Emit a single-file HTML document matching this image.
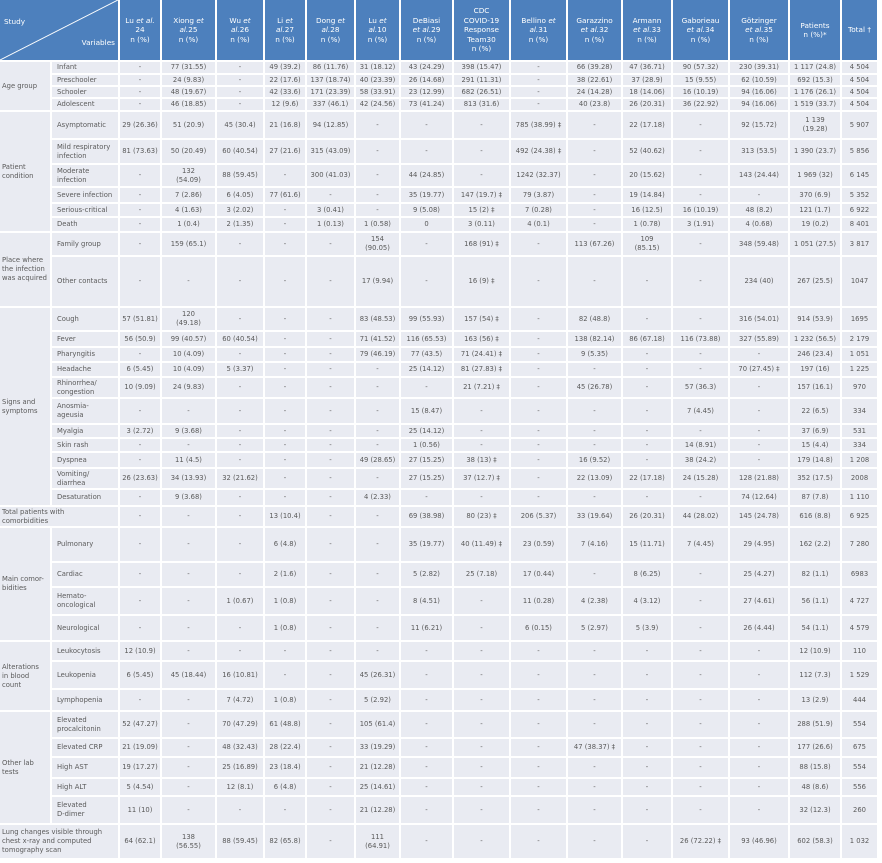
<!DOCTYPE html>
<html><head><meta charset="utf-8"><style>
html,body{margin:0;padding:0;background:#fff;width:882px;height:863px;overflow:hidden}
table{position:absolute;left:-2px;top:-2px;border-collapse:separate;border-spacing:2px;table-layout:fixed;width:881px;font-family:"DejaVu Sans","Liberation Sans",sans-serif}
td{padding:0;background:#e9ebf2;color:#5a5a5a;font-size:6.8px;line-height:9px;text-align:center;vertical-align:middle;overflow:hidden;white-space:nowrap}
td.c{text-align:left;padding-left:2px}
td.v{text-align:left;padding-left:5px}
thead td{background:#4d80bd;color:#fff;font-size:7.3px;line-height:9.5px}
thead td i{font-style:italic}
</style></head><body>
<table>
<colgroup><col style="width:50px"><col style="width:66px"><col style="width:40px"><col style="width:53px"><col style="width:46px"><col style="width:40px"><col style="width:47px"><col style="width:43px"><col style="width:51px"><col style="width:55px"><col style="width:55px"><col style="width:53px"><col style="width:48px"><col style="width:55px"><col style="width:58px"><col style="width:50px"><col style="width:35px"></colgroup>
<thead><tr style="height:60px">
<td colspan="2" style="position:relative;padding:0"><svg width="118" height="60" style="position:absolute;left:0;top:0"><line x1="0" y1="60" x2="118" y2="0" stroke="#fff" stroke-width="1"/></svg><span style="position:absolute;left:4px;top:17px">Study</span><span style="position:absolute;right:3px;top:38px">Variables</span></td>
<td>Lu <i>et al.</i><br>24<br>n (%)</td>
<td>Xiong <i>et</i><br><i>al.</i>25<br>n (%)</td>
<td>Wu <i>et</i><br><i>al.</i>26<br>n (%)</td>
<td>Li <i>et</i><br><i>al.</i>27<br>n (%)</td>
<td>Dong <i>et</i><br><i>al.</i>28<br>n (%)</td>
<td>Lu <i>et</i><br><i>al.</i>10<br>n (%)</td>
<td>DeBiasi<br><i>et al.</i>29<br>n (%)</td>
<td>CDC<br>COVID-19<br>Response<br>Team30<br>n (%)</td>
<td>Bellino <i>et</i><br><i>al.</i>31<br>n (%)</td>
<td>Garazzino<br><i>et al.</i>32<br>n (%)</td>
<td>Armann<br><i>et al.</i>33<br>n (%)</td>
<td>Gaborieau<br><i>et al.</i>34<br>n (%)</td>
<td>Götzinger<br><i>et al.</i>35<br>n (%)</td>
<td>Patients<br>n (%)*</td>
<td>Total †</td>
</tr></thead>
<tbody>
<tr style="height:11px"><td class="c" rowspan="4">Age group</td><td class="v">Infant</td><td>-</td><td>77 (31.55)</td><td>-</td><td>49 (39.2)</td><td>86 (11.76)</td><td>31 (18.12)</td><td>43 (24.29)</td><td>398 (15.47)</td><td>-</td><td>66 (39.28)</td><td>47 (36.71)</td><td>90 (57.32)</td><td>230 (39.31)</td><td>1 117 (24.8)</td><td>4 504</td></tr>
<tr style="height:10px"><td class="v">Preschooler</td><td>-</td><td>24 (9.83)</td><td>-</td><td>22 (17.6)</td><td>137 (18.74)</td><td>40 (23.39)</td><td>26 (14.68)</td><td>291 (11.31)</td><td>-</td><td>38 (22.61)</td><td>37 (28.9)</td><td>15 (9.55)</td><td>62 (10.59)</td><td>692 (15.3)</td><td>4 504</td></tr>
<tr style="height:10px"><td class="v">Schooler</td><td>-</td><td>48 (19.67)</td><td>-</td><td>42 (33.6)</td><td>171 (23.39)</td><td>58 (33.91)</td><td>23 (12.99)</td><td>682 (26.51)</td><td>-</td><td>24 (14.28)</td><td>18 (14.06)</td><td>16 (10.19)</td><td>94 (16.06)</td><td>1 176 (26.1)</td><td>4 504</td></tr>
<tr style="height:11px"><td class="v">Adolescent</td><td>-</td><td>46 (18.85)</td><td>-</td><td>12 (9.6)</td><td>337 (46.1)</td><td>42 (24.56)</td><td>73 (41.24)</td><td>813 (31.6)</td><td>-</td><td>40 (23.8)</td><td>26 (20.31)</td><td>36 (22.92)</td><td>94 (16.06)</td><td>1 519 (33.7)</td><td>4 504</td></tr>
<tr style="height:26px"><td class="c" rowspan="6">Patient<br>condition</td><td class="v">Asymptomatic</td><td>29 (26.36)</td><td>51 (20.9)</td><td>45 (30.4)</td><td>21 (16.8)</td><td>94 (12.85)</td><td>-</td><td>-</td><td>-</td><td>785 (38.99) ‡</td><td>-</td><td>22 (17.18)</td><td>-</td><td>92 (15.72)</td><td>1 139<br>(19.28)</td><td>5 907</td></tr>
<tr style="height:23px"><td class="v">Mild respiratory<br>infection</td><td>81 (73.63)</td><td>50 (20.49)</td><td>60 (40.54)</td><td>27 (21.6)</td><td>315 (43.09)</td><td>-</td><td>-</td><td>-</td><td>492 (24.38) ‡</td><td>-</td><td>52 (40.62)</td><td>-</td><td>313 (53.5)</td><td>1 390 (23.7)</td><td>5 856</td></tr>
<tr style="height:21px"><td class="v">Moderate<br>infection</td><td>-</td><td>132<br>(54.09)</td><td>88 (59.45)</td><td>-</td><td>300 (41.03)</td><td>-</td><td>44 (24.85)</td><td>-</td><td>1242 (32.37)</td><td>-</td><td>20 (15.62)</td><td>-</td><td>143 (24.44)</td><td>1 969 (32)</td><td>6 145</td></tr>
<tr style="height:14px"><td class="v">Severe infection</td><td>-</td><td>7 (2.86)</td><td>6 (4.05)</td><td>77 (61.6)</td><td>-</td><td>-</td><td>35 (19.77)</td><td>147 (19.7) ‡</td><td>79 (3.87)</td><td>-</td><td>19 (14.84)</td><td>-</td><td>-</td><td>370 (6.9)</td><td>5 352</td></tr>
<tr style="height:12px"><td class="v">Serious-critical</td><td>-</td><td>4 (1.63)</td><td>3 (2.02)</td><td>-</td><td>3 (0.41)</td><td>-</td><td>9 (5.08)</td><td>15 (2) ‡</td><td>7 (0.28)</td><td>-</td><td>16 (12.5)</td><td>16 (10.19)</td><td>48 (8.2)</td><td>121 (1.7)</td><td>6 922</td></tr>
<tr style="height:13px"><td class="v">Death</td><td>-</td><td>1 (0.4)</td><td>2 (1.35)</td><td>-</td><td>1 (0.13)</td><td>1 (0.58)</td><td>0</td><td>3 (0.11)</td><td>4 (0.1)</td><td>-</td><td>1 (0.78)</td><td>3 (1.91)</td><td>4 (0.68)</td><td>19 (0.2)</td><td>8 401</td></tr>
<tr style="height:22px"><td class="c" rowspan="2">Place where<br>the infection<br>was acquired</td><td class="v">Family group</td><td>-</td><td>159 (65.1)</td><td>-</td><td>-</td><td>-</td><td>154<br>(90.05)</td><td>-</td><td>168 (91) ‡</td><td>-</td><td>113 (67.26)</td><td>109<br>(85.15)</td><td>-</td><td>348 (59.48)</td><td>1 051 (27.5)</td><td>3 817</td></tr>
<tr style="height:49px"><td class="v">Other contacts</td><td>-</td><td>-</td><td>-</td><td>-</td><td>-</td><td>17 (9.94)</td><td>-</td><td>16 (9) ‡</td><td>-</td><td>-</td><td>-</td><td>-</td><td>234 (40)</td><td>267 (25.5)</td><td>1047</td></tr>
<tr style="height:22px"><td class="c" rowspan="11">Signs and<br>symptoms</td><td class="v">Cough</td><td>57 (51.81)</td><td>120<br>(49.18)</td><td>-</td><td>-</td><td>-</td><td>83 (48.53)</td><td>99 (55.93)</td><td>157 (54) ‡</td><td>-</td><td>82 (48.8)</td><td>-</td><td>-</td><td>316 (54.01)</td><td>914 (53.9)</td><td>1695</td></tr>
<tr style="height:14px"><td class="v">Fever</td><td>56 (50.9)</td><td>99 (40.57)</td><td>60 (40.54)</td><td>-</td><td>-</td><td>71 (41.52)</td><td>116 (65.53)</td><td>163 (56) ‡</td><td>-</td><td>138 (82.14)</td><td>86 (67.18)</td><td>116 (73.88)</td><td>327 (55.89)</td><td>1 232 (56.5)</td><td>2 179</td></tr>
<tr style="height:13px"><td class="v">Pharyngitis</td><td>-</td><td>10 (4.09)</td><td>-</td><td>-</td><td>-</td><td>79 (46.19)</td><td>77 (43.5)</td><td>71 (24.41) ‡</td><td>-</td><td>9 (5.35)</td><td>-</td><td>-</td><td>-</td><td>246 (23.4)</td><td>1 051</td></tr>
<tr style="height:13px"><td class="v">Headache</td><td>6 (5.45)</td><td>10 (4.09)</td><td>5 (3.37)</td><td>-</td><td>-</td><td>-</td><td>25 (14.12)</td><td>81 (27.83) ‡</td><td>-</td><td>-</td><td>-</td><td>-</td><td>70 (27.45) ‡</td><td>197 (16)</td><td>1 225</td></tr>
<tr style="height:19px"><td class="v">Rhinorrhea/<br>congestion</td><td>10 (9.09)</td><td>24 (9.83)</td><td>-</td><td>-</td><td>-</td><td>-</td><td>-</td><td>21 (7.21) ‡</td><td>-</td><td>45 (26.78)</td><td>-</td><td>57 (36.3)</td><td>-</td><td>157 (16.1)</td><td>970</td></tr>
<tr style="height:24px"><td class="v">Anosmia-<br>ageusia</td><td>-</td><td>-</td><td>-</td><td>-</td><td>-</td><td>-</td><td>15 (8.47)</td><td>-</td><td>-</td><td>-</td><td>-</td><td>7 (4.45)</td><td>-</td><td>22 (6.5)</td><td>334</td></tr>
<tr style="height:12px"><td class="v">Myalgia</td><td>3 (2.72)</td><td>9 (3.68)</td><td>-</td><td>-</td><td>-</td><td>-</td><td>25 (14.12)</td><td>-</td><td>-</td><td>-</td><td>-</td><td>-</td><td>-</td><td>37 (6.9)</td><td>531</td></tr>
<tr style="height:12px"><td class="v">Skin rash</td><td>-</td><td>-</td><td>-</td><td>-</td><td>-</td><td>-</td><td>1 (0.56)</td><td>-</td><td>-</td><td>-</td><td>-</td><td>14 (8.91)</td><td>-</td><td>15 (4.4)</td><td>334</td></tr>
<tr style="height:14px"><td class="v">Dyspnea</td><td>-</td><td>11 (4.5)</td><td>-</td><td>-</td><td>-</td><td>49 (28.65)</td><td>27 (15.25)</td><td>38 (13) ‡</td><td>-</td><td>16 (9.52)</td><td>-</td><td>38 (24.2)</td><td>-</td><td>179 (14.8)</td><td>1 208</td></tr>
<tr style="height:19px"><td class="v">Vomiting/<br>diarrhea</td><td>26 (23.63)</td><td>34 (13.93)</td><td>32 (21.62)</td><td>-</td><td>-</td><td>-</td><td>27 (15.25)</td><td>37 (12.7) ‡</td><td>-</td><td>22 (13.09)</td><td>22 (17.18)</td><td>24 (15.28)</td><td>128 (21.88)</td><td>352 (17.5)</td><td>2008</td></tr>
<tr style="height:15px"><td class="v">Desaturation</td><td>-</td><td>9 (3.68)</td><td>-</td><td>-</td><td>-</td><td>4 (2.33)</td><td>-</td><td>-</td><td>-</td><td>-</td><td>-</td><td>-</td><td>74 (12.64)</td><td>87 (7.8)</td><td>1 110</td></tr>
<tr style="height:19px"><td class="c" colspan="2">Total patients with<br>comorbidities</td><td>-</td><td>-</td><td>-</td><td>13 (10.4)</td><td>-</td><td>-</td><td>69 (38.98)</td><td>80 (23) ‡</td><td>206 (5.37)</td><td>33 (19.64)</td><td>26 (20.31)</td><td>44 (28.02)</td><td>145 (24.78)</td><td>616 (8.8)</td><td>6 925</td></tr>
<tr style="height:33px"><td class="c" rowspan="4">Main comor-<br>bidities</td><td class="v">Pulmonary</td><td>-</td><td>-</td><td>-</td><td>6 (4.8)</td><td>-</td><td>-</td><td>35 (19.77)</td><td>40 (11.49) ‡</td><td>23 (0.59)</td><td>7 (4.16)</td><td>15 (11.71)</td><td>7 (4.45)</td><td>29 (4.95)</td><td>162 (2.2)</td><td>7 280</td></tr>
<tr style="height:23px"><td class="v">Cardiac</td><td>-</td><td>-</td><td>-</td><td>2 (1.6)</td><td>-</td><td>-</td><td>5 (2.82)</td><td>25 (7.18)</td><td>17 (0.44)</td><td>-</td><td>8 (6.25)</td><td>-</td><td>25 (4.27)</td><td>82 (1.1)</td><td>6983</td></tr>
<tr style="height:26px"><td class="v">Hemato-<br>oncological</td><td>-</td><td>-</td><td>1 (0.67)</td><td>1 (0.8)</td><td>-</td><td>-</td><td>8 (4.51)</td><td>-</td><td>11 (0.28)</td><td>4 (2.38)</td><td>4 (3.12)</td><td>-</td><td>27 (4.61)</td><td>56 (1.1)</td><td>4 727</td></tr>
<tr style="height:24px"><td class="v">Neurological</td><td>-</td><td>-</td><td>-</td><td>1 (0.8)</td><td>-</td><td>-</td><td>11 (6.21)</td><td>-</td><td>6 (0.15)</td><td>5 (2.97)</td><td>5 (3.9)</td><td>-</td><td>26 (4.44)</td><td>54 (1.1)</td><td>4 579</td></tr>
<tr style="height:18px"><td class="c" rowspan="3">Alterations<br>in blood<br>count</td><td class="v">Leukocytosis</td><td>12 (10.9)</td><td>-</td><td>-</td><td>-</td><td>-</td><td>-</td><td>-</td><td>-</td><td>-</td><td>-</td><td>-</td><td>-</td><td>-</td><td>12 (10.9)</td><td>110</td></tr>
<tr style="height:26px"><td class="v">Leukopenia</td><td>6 (5.45)</td><td>45 (18.44)</td><td>16 (10.81)</td><td>-</td><td>-</td><td>45 (26.31)</td><td>-</td><td>-</td><td>-</td><td>-</td><td>-</td><td>-</td><td>-</td><td>112 (7.3)</td><td>1 529</td></tr>
<tr style="height:20px"><td class="v">Lymphopenia</td><td>-</td><td>-</td><td>7 (4.72)</td><td>1 (0.8)</td><td>-</td><td>5 (2.92)</td><td>-</td><td>-</td><td>-</td><td>-</td><td>-</td><td>-</td><td>-</td><td>13 (2.9)</td><td>444</td></tr>
<tr style="height:25px"><td class="c" rowspan="5">Other lab<br>tests</td><td class="v">Elevated<br>procalcitonin</td><td>52 (47.27)</td><td>-</td><td>70 (47.29)</td><td>61 (48.8)</td><td>-</td><td>105 (61.4)</td><td>-</td><td>-</td><td>-</td><td>-</td><td>-</td><td>-</td><td>-</td><td>288 (51.9)</td><td>554</td></tr>
<tr style="height:17px"><td class="v">Elevated CRP</td><td>21 (19.09)</td><td>-</td><td>48 (32.43)</td><td>28 (22.4)</td><td>-</td><td>33 (19.29)</td><td>-</td><td>-</td><td>-</td><td>47 (38.37) ‡</td><td>-</td><td>-</td><td>-</td><td>177 (26.6)</td><td>675</td></tr>
<tr style="height:19px"><td class="v">High AST</td><td>19 (17.27)</td><td>-</td><td>25 (16.89)</td><td>23 (18.4)</td><td>-</td><td>21 (12.28)</td><td>-</td><td>-</td><td>-</td><td>-</td><td>-</td><td>-</td><td>-</td><td>88 (15.8)</td><td>554</td></tr>
<tr style="height:16px"><td class="v">High ALT</td><td>5 (4.54)</td><td>-</td><td>12 (8.1)</td><td>6 (4.8)</td><td>-</td><td>25 (14.61)</td><td>-</td><td>-</td><td>-</td><td>-</td><td>-</td><td>-</td><td>-</td><td>48 (8.6)</td><td>556</td></tr>
<tr style="height:26px"><td class="v">Elevated<br>D-dimer</td><td>11 (10)</td><td>-</td><td>-</td><td>-</td><td>-</td><td>21 (12.28)</td><td>-</td><td>-</td><td>-</td><td>-</td><td>-</td><td>-</td><td>-</td><td>32 (12.3)</td><td>260</td></tr>
<tr style="height:33px"><td class="c" colspan="2">Lung changes visible through<br>chest x-ray and computed<br>tomography scan</td><td>64 (62.1)</td><td>138<br>(56.55)</td><td>88 (59.45)</td><td>82 (65.8)</td><td>-</td><td>111<br>(64.91)</td><td>-</td><td>-</td><td>-</td><td>-</td><td>-</td><td>26 (72.22) ‡</td><td>93 (46.96)</td><td>602 (58.3)</td><td>1 032</td></tr>
</tbody></table>
</body></html>
